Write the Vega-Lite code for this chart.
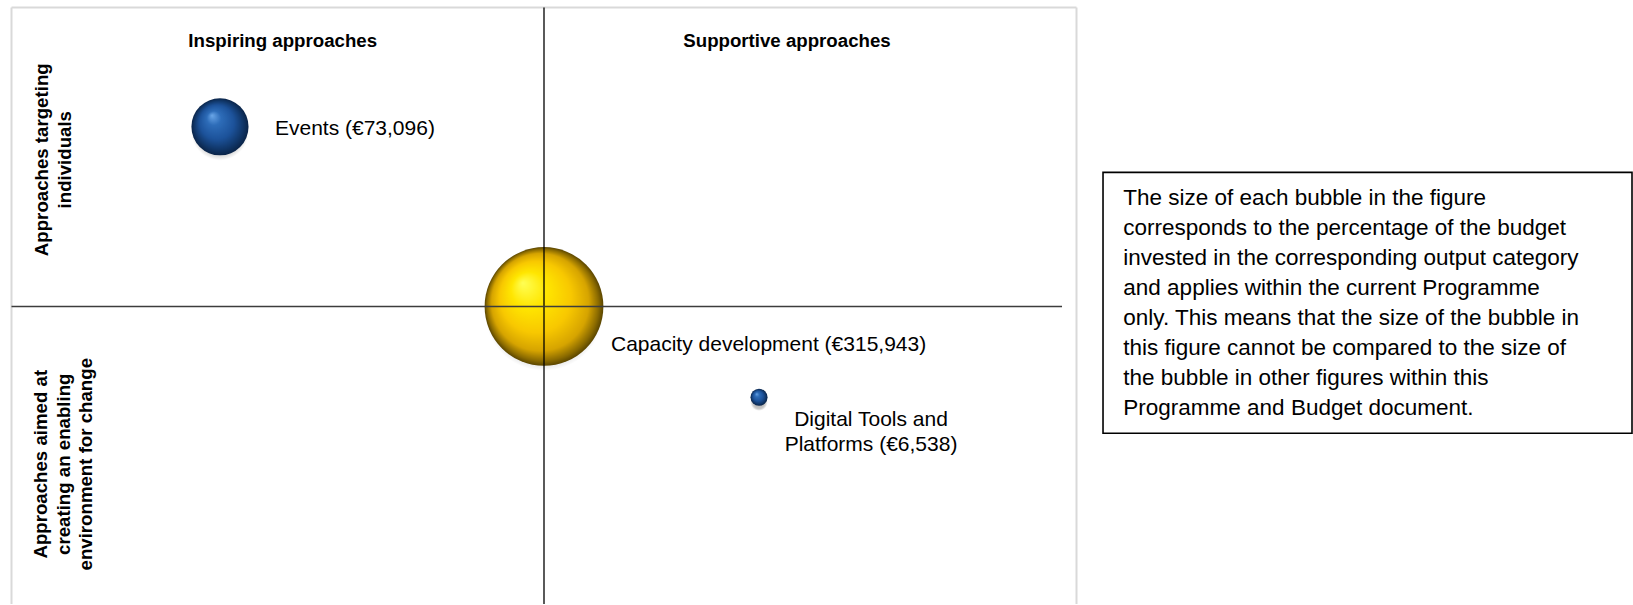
{
  "$schema": "https://vega.github.io/schema/vega-lite/v6.json",
  "width": 1633,
  "height": 605,
  "autosize": {"type": "fit", "contains": "padding"},
  "padding": 0,
  "background": "white",
  "config": {"view": {"stroke": null}, "font": "Liberation Sans"},
  "datasets": {
    "outputs": [
      {"output": "Events", "label": "Events (€73,096)", "budget": 73096, "scope": -0.6085, "level": 0.6},
      {"output": "Capacity development", "label": "Capacity development (€315,943)", "budget": 315943, "scope": 0, "level": 0},
      {"output": "Digital Tools and Platforms", "label": "Digital Tools and\nPlatforms (€6,538)", "budget": 6538, "scope": 0.4038, "level": -0.3033}
    ],
    "headings": [
      {"text": "Inspiring approaches", "scope": -0.4907, "level": 0.8667},
      {"text": "Supportive approaches", "scope": 0.4563, "level": 0.8667}
    ],
    "sides": [
      {"text": "Approaches targeting\nindividuals", "scope": -0.942, "level": 0.49},
      {"text": "Approaches aimed at\ncreating an enabling\nenvironment for change", "scope": -0.9446, "level": -0.5267}
    ],
    "frame": [
      {"side": "top", "x": -1, "x2": 1, "y": 0.998, "y2": 0.998},
      {"side": "left", "x": -1, "x2": -1, "y": 0.998, "y2": -0.99333},
      {"side": "right", "x": 1, "x2": 1, "y": 0.998, "y2": -0.99333}
    ],
    "note": [
      {"text": "The size of each bubble in the figure\ncorresponds to the percentage of the budget\ninvested in the corresponding output category\nand applies within the current Programme\nonly. This means that the size of the bubble in\nthis figure cannot be compared to the size of\nthe bubble in other figures within this\nProgramme and Budget document.", "scope": 1.0879, "level": 0.34}
    ]
  },
  "layer": [
    {
      "data": {"name": "frame"},
      "mark": {"type": "rule", "color": "#d9d9d9", "strokeWidth": 2},
      "encoding": {
        "x": {"field": "x", "type": "quantitative", "scale": {"domain": [-1.0216, 2.04507], "nice": false, "zero": false}, "axis": null},
        "x2": {"field": "x2"},
        "y": {"field": "y", "type": "quantitative", "scale": {"domain": [-0.99333, 1.02333], "nice": false, "zero": false}, "axis": null},
        "y2": {"field": "y2"}
      }
    },
    {
      "data": {"name": "outputs"},
      "mark": {"type": "point", "shape": "circle", "filled": true, "opacity": 1, "yOffset": 5,
        "fill": {"gradient": "radial", "x1": 0.5, "y1": 0.5, "r1": 0, "x2": 0.5, "y2": 0.5, "r2": 0.5,
          "stops": [{"offset": 0, "color": "rgba(0,0,0,0.35)"}, {"offset": 0.75, "color": "rgba(0,0,0,0.22)"}, {"offset": 1, "color": "rgba(0,0,0,0)"}]}},
      "encoding": {
        "x": {"field": "scope", "type": "quantitative"},
        "y": {"field": "level", "type": "quantitative"},
        "size": {"field": "budget", "type": "quantitative", "scale": {"domain": [0, 315943], "range": [0, 14103], "zero": true}, "legend": null}
      }
    },
    {
      "data": {"name": "outputs"},
      "transform": [{"filter": "datum.output !== 'Capacity development'"}],
      "mark": {"type": "point", "shape": "circle", "filled": true, "opacity": 1,
        "fill": {"gradient": "radial", "x1": 0.36, "y1": 0.3, "r1": 0, "x2": 0.5, "y2": 0.5, "r2": 0.5,
          "stops": [{"offset": 0, "color": "#6aa6e8"}, {"offset": 0.25, "color": "#2d6cb8"}, {"offset": 0.6, "color": "#1c529a"}, {"offset": 0.85, "color": "#103668"}, {"offset": 1, "color": "#0a2448"}]}},
      "encoding": {
        "x": {"field": "scope", "type": "quantitative"},
        "y": {"field": "level", "type": "quantitative"},
        "size": {"field": "budget", "type": "quantitative"}
      }
    },
    {
      "data": {"name": "outputs"},
      "transform": [{"filter": "datum.output === 'Capacity development'"}],
      "mark": {"type": "point", "shape": "circle", "filled": true, "opacity": 1,
        "fill": {"gradient": "radial", "x1": 0.32, "y1": 0.3, "r1": 0, "x2": 0.5, "y2": 0.5, "r2": 0.5,
          "stops": [{"offset": 0, "color": "#ffff55"}, {"offset": 0.3, "color": "#ffe600"}, {"offset": 0.6, "color": "#f8c800"}, {"offset": 0.82, "color": "#d6a400"}, {"offset": 0.94, "color": "#8a6a00"}, {"offset": 1, "color": "#5a4500"}]}},
      "encoding": {
        "x": {"field": "scope", "type": "quantitative"},
        "y": {"field": "level", "type": "quantitative"},
        "size": {"field": "budget", "type": "quantitative"}
      }
    },
    {
      "data": {"values": [{}]},
      "mark": {"type": "rule", "color": "#000000", "strokeWidth": 1.3},
      "encoding": {
        "x": {"datum": 0, "type": "quantitative"},
        "y": {"datum": 0.998, "type": "quantitative"},
        "y2": {"datum": -0.99333}
      }
    },
    {
      "data": {"values": [{}]},
      "mark": {"type": "rule", "color": "#3c3c3c", "strokeWidth": 1.5},
      "encoding": {
        "y": {"datum": 0, "type": "quantitative"},
        "x": {"datum": -1, "type": "quantitative"},
        "x2": {"datum": 0.9728}
      }
    },
    {
      "data": {"name": "outputs"},
      "transform": [{"filter": "datum.output === 'Events'"}],
      "mark": {"type": "text", "align": "left", "baseline": "middle", "dx": 55, "dy": 2, "fontSize": 21, "color": "#000000"},
      "encoding": {
        "x": {"field": "scope", "type": "quantitative"},
        "y": {"field": "level", "type": "quantitative"},
        "text": {"field": "label"}
      }
    },
    {
      "data": {"name": "outputs"},
      "transform": [{"filter": "datum.output === 'Capacity development'"}],
      "mark": {"type": "text", "align": "left", "baseline": "middle", "dx": 67, "dy": 39, "fontSize": 21, "color": "#000000"},
      "encoding": {
        "x": {"field": "scope", "type": "quantitative"},
        "y": {"field": "level", "type": "quantitative"},
        "text": {"field": "label"}
      }
    },
    {
      "data": {"name": "outputs"},
      "transform": [{"filter": "datum.output === 'Digital Tools and Platforms'"}],
      "mark": {"type": "text", "align": "center", "baseline": "middle", "dx": 112, "dy": 22.5, "fontSize": 21, "lineBreak": "\n", "lineHeight": 25.6, "color": "#000000"},
      "encoding": {
        "x": {"field": "scope", "type": "quantitative"},
        "y": {"field": "level", "type": "quantitative"},
        "text": {"field": "label"}
      }
    },
    {
      "data": {"name": "headings"},
      "mark": {"type": "text", "align": "center", "baseline": "alphabetic", "fontSize": 18.67, "fontWeight": "bold", "color": "#000000"},
      "encoding": {
        "x": {"field": "scope", "type": "quantitative"},
        "y": {"field": "level", "type": "quantitative"},
        "text": {"field": "text"}
      }
    },
    {
      "data": {"name": "sides"},
      "mark": {"type": "text", "align": "center", "baseline": "middle", "angle": 270, "fontSize": 18.67, "fontWeight": "bold", "lineBreak": "\n", "lineHeight": 22.5, "color": "#000000"},
      "encoding": {
        "x": {"field": "scope", "type": "quantitative"},
        "y": {"field": "level", "type": "quantitative"},
        "text": {"field": "text"}
      }
    },
    {
      "data": {"values": [{}]},
      "mark": {"type": "rect", "filled": false, "stroke": "#000000", "strokeWidth": 1.6},
      "encoding": {
        "x": {"datum": 1.0498, "type": "quantitative"},
        "x2": {"datum": 2.0432},
        "y": {"datum": 0.4477, "type": "quantitative"},
        "y2": {"datum": -0.4233}
      }
    },
    {
      "data": {"name": "note"},
      "mark": {"type": "text", "align": "left", "baseline": "alphabetic", "fontSize": 22.5, "lineBreak": "\n", "lineHeight": 30, "color": "#000000"},
      "encoding": {
        "x": {"field": "scope", "type": "quantitative"},
        "y": {"field": "level", "type": "quantitative"},
        "text": {"field": "text"}
      }
    }
  ]
}
